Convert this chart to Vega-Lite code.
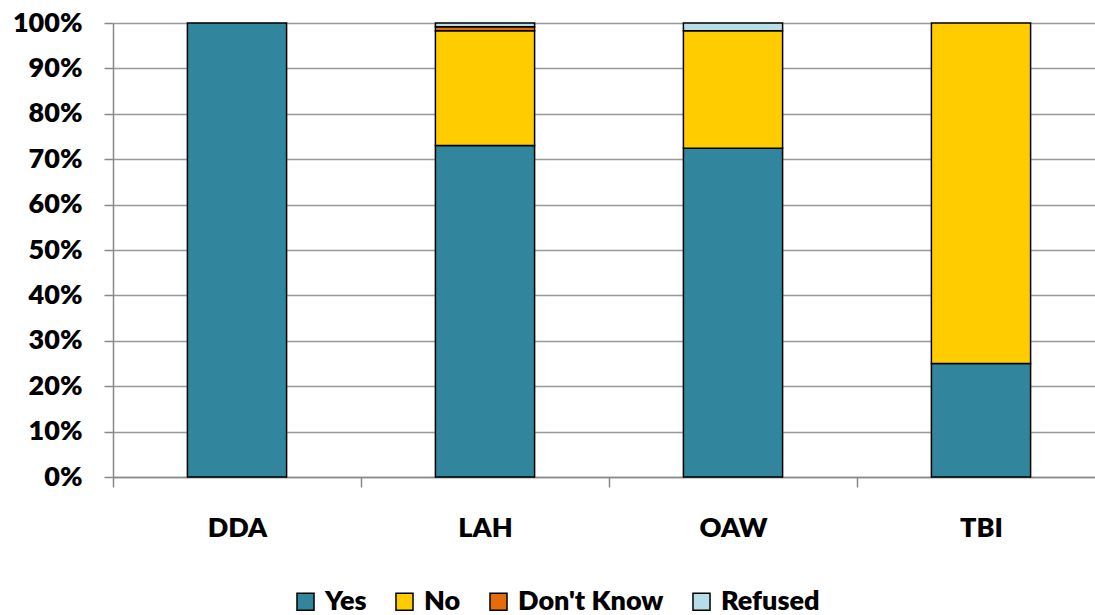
{
  "$schema": "https://vega.github.io/schema/vega-lite/v6.json",
  "width": 982,
  "height": 454,
  "autosize": {"type": "none"},
  "padding": {"left": 113, "top": 23, "right": 0, "bottom": 138},
  "background": "white",
  "data": {"values": [
    {"program": "DDA", "response": "Yes", "value": 1.0, "ord": 1},
    {"program": "DDA", "response": "No", "value": 0.0, "ord": 2},
    {"program": "DDA", "response": "Don't Know", "value": 0.0, "ord": 3},
    {"program": "DDA", "response": "Refused", "value": 0.0, "ord": 4},
    {"program": "LAH", "response": "Yes", "value": 0.730, "ord": 1},
    {"program": "LAH", "response": "No", "value": 0.253, "ord": 2},
    {"program": "LAH", "response": "Don't Know", "value": 0.009, "ord": 3},
    {"program": "LAH", "response": "Refused", "value": 0.008, "ord": 4},
    {"program": "OAW", "response": "Yes", "value": 0.724, "ord": 1},
    {"program": "OAW", "response": "No", "value": 0.259, "ord": 2},
    {"program": "OAW", "response": "Don't Know", "value": 0.0, "ord": 3},
    {"program": "OAW", "response": "Refused", "value": 0.017, "ord": 4},
    {"program": "TBI", "response": "Yes", "value": 0.25, "ord": 1},
    {"program": "TBI", "response": "No", "value": 0.75, "ord": 2},
    {"program": "TBI", "response": "Don't Know", "value": 0.0, "ord": 3},
    {"program": "TBI", "response": "Refused", "value": 0.0, "ord": 4}
  ]},
  "transform": [{"filter": "datum.value > 0"}],
  "mark": {"type": "bar", "stroke": "black", "strokeWidth": 1.5, "width": {"band": 0.4}},
  "encoding": {
    "x": {
      "field": "program", "type": "nominal", "sort": ["DDA", "LAH", "OAW", "TBI"],
      "scale": {"range": [0, 992], "paddingInner": 0, "paddingOuter": 0},
      "axis": {
        "title": null, "labelAngle": 0, "tickBand": "extent", "grid": false,
        "domainColor": "#888888", "domainWidth": 1.5, "tickColor": "#888888", "tickWidth": 1.5,
        "tickSize": 10, "labelPadding": 28, "labelFontSize": 27, "labelFontWeight": 800,
        "labelFont": "Lato", "labelColor": "black"
      }
    },
    "y": {
      "field": "value", "type": "quantitative", "stack": "zero",
      "scale": {"domain": [0, 1], "nice": false},
      "axis": {
        "title": null, "format": ".0%", "values": [0, 0.1, 0.2, 0.3, 0.4, 0.5, 0.6, 0.7, 0.8, 0.9, 1.0],
        "grid": true, "gridColor": "#999999", "gridWidth": 1.5,
        "domainColor": "#888888", "domainWidth": 1.5, "tickColor": "#888888", "tickWidth": 1.5,
        "tickSize": 9, "labelPadding": 22, "labelFontSize": 27, "labelFontWeight": 800,
        "labelFont": "Lato", "labelColor": "black"
      }
    },
    "color": {
      "field": "response", "type": "nominal",
      "scale": {"domain": ["Yes", "No", "Don't Know", "Refused"], "range": ["#31859c", "#ffcc00", "#e46c0a", "#b7dee8"]},
      "legend": {
        "title": null, "orient": "none", "legendX": 179, "legendY": 565, "direction": "horizontal",
        "symbolType": "square", "symbolSize": 290, "symbolStrokeColor": "black", "symbolStrokeWidth": 1.5,
        "symbolOpacity": 1, "labelFontSize": 27, "labelFontWeight": 800, "labelFont": "Lato",
        "labelColor": "black", "columnPadding": 24, "labelOffset": 6
      }
    },
    "order": {"field": "ord", "type": "quantitative"}
  },
  "config": {"view": {"stroke": null}}
}
